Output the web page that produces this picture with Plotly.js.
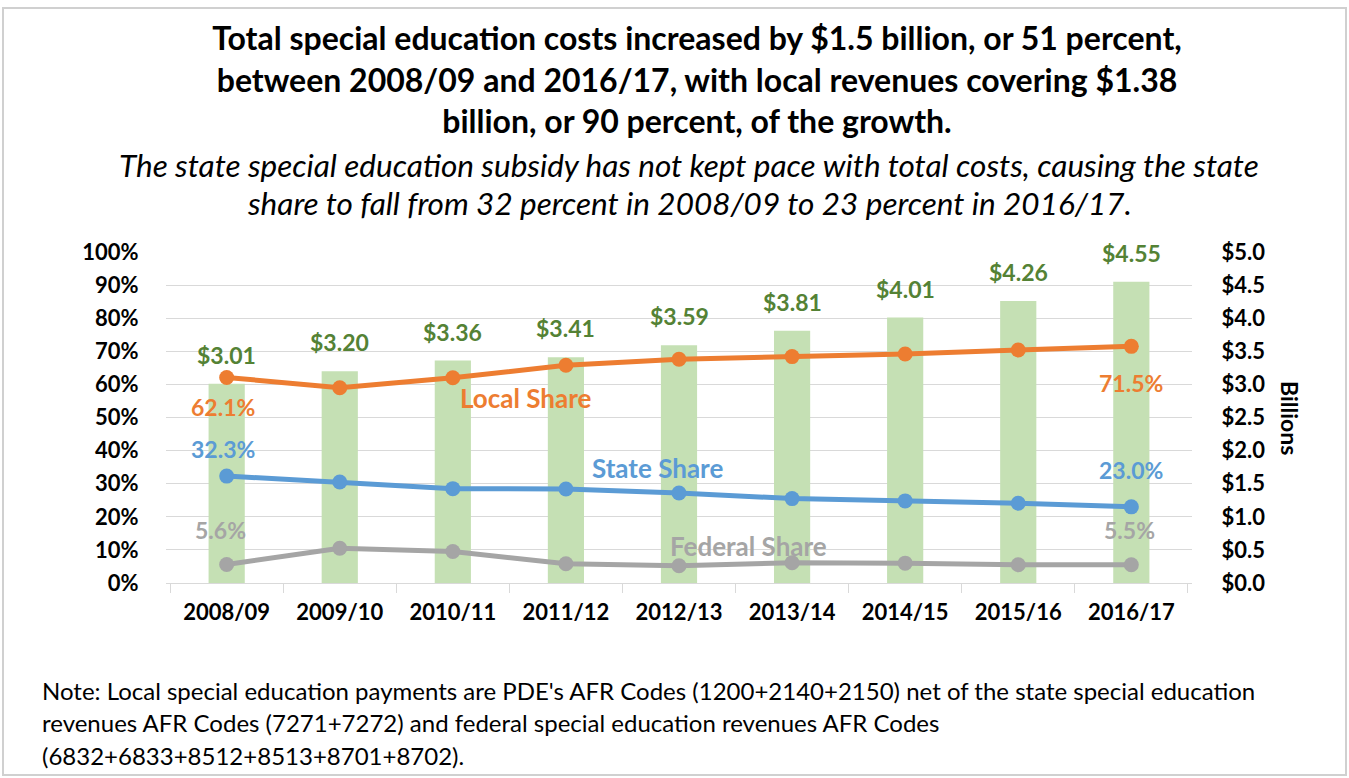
<!DOCTYPE html>
<html>
<head>
<meta charset="utf-8">
<script src="https://cdn.plot.ly/plotly-3.0.1.min.js"></script>
<style>
  html, body { margin: 0; padding: 0; background: #ffffff; }
  #chart { width: 1349px; height: 778px; }
</style>
</head>
<body>
<div id="chart"></div>
<script>
// ---- data ----
const years = ["2008/09", "2009/10", "2010/11", "2011/12", "2012/13", "2013/14", "2014/15", "2015/16", "2016/17"];
const totalCostBillions = [3.01, 3.20, 3.36, 3.41, 3.59, 3.81, 4.01, 4.26, 4.55];
const localShare = [62.1, 59.0, 62.0, 65.8, 67.6, 68.4, 69.2, 70.4, 71.5];
const stateShare = [32.3, 30.5, 28.5, 28.4, 27.2, 25.5, 24.8, 24.1, 23.0];
const federalShare = [5.6, 10.5, 9.5, 5.8, 5.2, 6.1, 6.0, 5.5, 5.5];
const leftTicks = [0, 10, 20, 30, 40, 50, 60, 70, 80, 90, 100];
const rightTicks = [0, 0.5, 1.0, 1.5, 2.0, 2.5, 3.0, 3.5, 4.0, 4.5, 5.0];

const titleLines = [
  "Total special education costs increased by $1.5 billion, or 51 percent,",
  "between 2008/09 and 2016/17, with local revenues covering $1.38",
  "billion, or 90 percent, of the growth."
];
const subtitleLines = [
  "The state special education subsidy has not kept pace with total costs, causing the state",
  "share to fall from 32 percent in 2008/09 to 23 percent in 2016/17."
];
const noteLines = [
  "Note: Local special education payments are PDE's AFR Codes (1200+2140+2150) net of the state special education",
  "revenues AFR Codes (7271+7272) and federal special education revenues AFR Codes",
  "(6832+6833+8512+8513+8701+8702)."
];

// ---- styles ----
const FONT = "Lato, 'Open Sans', 'Liberation Sans', sans-serif";
const ORANGE = "#ed7d31", BLUE = "#5b9bd5", GRAY = "#a5a5a5";
const BAR_GREEN = "#c5e0b4", TEXT_GREEN = "#548235", GRID = "#d9d9d9";

// plot area in pixels
const PL = 166, PR = 1192, PT = 252, PB = 583;
const W = 1349, H = 778;
const px = p => (p - PL) / (PR - PL);
const py = p => (PB - p) / (PB - PT);

const traces = [
  {
    type: "bar", x: years, y: totalCostBillions, yaxis: "y",
    marker: { color: BAR_GREEN }, width: 0.32, hoverinfo: "x+y", name: "Total cost"
  },
  {
    type: "scatter", mode: "lines+markers", x: years, y: localShare, yaxis: "y2",
    line: { color: ORANGE, width: 5 }, marker: { color: ORANGE, size: 15 }, name: "Local Share"
  },
  {
    type: "scatter", mode: "lines+markers", x: years, y: stateShare, yaxis: "y2",
    line: { color: BLUE, width: 5 }, marker: { color: BLUE, size: 15 }, name: "State Share"
  },
  {
    type: "scatter", mode: "lines+markers", x: years, y: federalShare, yaxis: "y2",
    line: { color: GRAY, width: 5 }, marker: { color: GRAY, size: 15 }, name: "Federal Share"
  }
];

const annotations = [];
// bar value labels
years.forEach((yr, i) => {
  annotations.push({
    x: yr, y: totalCostBillions[i], xref: "x", yref: "y",
    text: "$" + totalCostBillions[i].toFixed(2), showarrow: false,
    xanchor: "center", yanchor: "bottom", yshift: 13,
    font: { family: FONT, size: 23, color: TEXT_GREEN, weight: "bold" }
  });
});
// end labels of lines
const last = years.length - 1;
function endLabel(arr, idx, color, shift, xs) {
  annotations.push({
    x: years[idx], y: arr[idx], xref: "x", yref: "y2",
    text: arr[idx].toFixed(1) + "%", showarrow: false, yshift: shift, xshift: xs,
    xanchor: "center", yanchor: "middle",
    font: { family: FONT, size: 23, color: color, weight: "bold" }
  });
}
endLabel(localShare, 0, ORANGE, -30, -4);
endLabel(localShare, last, ORANGE, -37, 0);
endLabel(stateShare, 0, BLUE, 27, -4);
endLabel(stateShare, last, BLUE, 37, 0);
endLabel(federalShare, 0, GRAY, 34, -6);
endLabel(federalShare, last, GRAY, 35, -2);

// series name labels
[["Local Share", ORANGE, 526, 398], ["State Share", BLUE, 657, 468], ["Federal Share", GRAY, 748, 546]]
  .forEach(([t, c, x, y]) => annotations.push({
    x: px(x), y: py(y), xref: "paper", yref: "paper", text: t, showarrow: false,
    xanchor: "center", yanchor: "middle",
    font: { family: FONT, size: 26, color: c, weight: "bold" }
  }));

// subtitle
subtitleLines.forEach((t, i) => annotations.push({
  x: px(689), y: py(165 + i * 38), xref: "paper", yref: "paper", text: "<i>" + t + "</i>",
  xanchor: "center", yanchor: "middle",
  showarrow: false, font: { family: FONT, size: 31.5, color: "#000000" }
}));
// note
noteLines.forEach((t, i) => annotations.push({
  x: px(40), y: py(690 + i * 32.5), xref: "paper", yref: "paper", text: t,
  xanchor: "left", yanchor: "middle",
  showarrow: false, font: { family: FONT, size: 24, color: "#000000" }
}));
// right axis title
annotations.push({
  x: px(1290), y: py(418), xref: "paper", yref: "paper", text: "<b>Billions</b>",
  xanchor: "center", yanchor: "middle",
  textangle: 90, showarrow: false, font: { family: FONT, size: 23, color: "#000000" }
});

const layout = {
  width: W, height: H,
  margin: { l: PL, r: W - PR, t: PT, b: H - PB, pad: 0 },
  paper_bgcolor: "#ffffff", plot_bgcolor: "#ffffff",
  showlegend: false,
  title: {
    text: titleLines.map(t => "<b>" + t + "</b>").join("<br>"),
    x: 697 / W, xanchor: "center", y: 1 - 50 / H, yanchor: "top",
    font: { family: FONT, size: 32, color: "#000000" }
  },
  xaxis: {
    type: "category", showline: true, linecolor: GRID, linewidth: 1,
    ticks: "outside", tickson: "boundaries", ticklen: 9, tickcolor: GRID,
    ticklabelstandoff: 10,
    tickfont: { family: FONT, size: 22, color: "#000000", weight: "bold" },
    showgrid: false
  },
  yaxis: {
    side: "right", range: [0, 5], tickvals: rightTicks,
    ticktext: rightTicks.map(v => "$" + v.toFixed(1)),
    showgrid: true, gridcolor: GRID, gridwidth: 1, zeroline: false,
    ticks: "outside", ticklen: 24, tickcolor: "rgba(0,0,0,0)",
    tickfont: { family: FONT, size: 22, color: "#000000", weight: "bold" }
  },
  yaxis2: {
    side: "left", overlaying: "y", range: [0, 100], tickvals: leftTicks,
    ticktext: leftTicks.map(v => v + "%"), showgrid: false, zeroline: false,
    ticks: "outside", ticklen: 22, tickcolor: "rgba(0,0,0,0)",
    tickfont: { family: FONT, size: 22, color: "#000000", weight: "bold" }
  },
  annotations: annotations,
  shapes: [{
    type: "rect", xref: "paper", yref: "paper",
    x0: px(3), x1: px(1346), y0: py(775), y1: py(8),
    line: { color: "#d0d0d0", width: 2 }, fillcolor: "rgba(0,0,0,0)", layer: "below"
  }]
};

Plotly.newPlot("chart", traces, layout, { displayModeBar: false, staticPlot: true });
</script>
</body>
</html>
